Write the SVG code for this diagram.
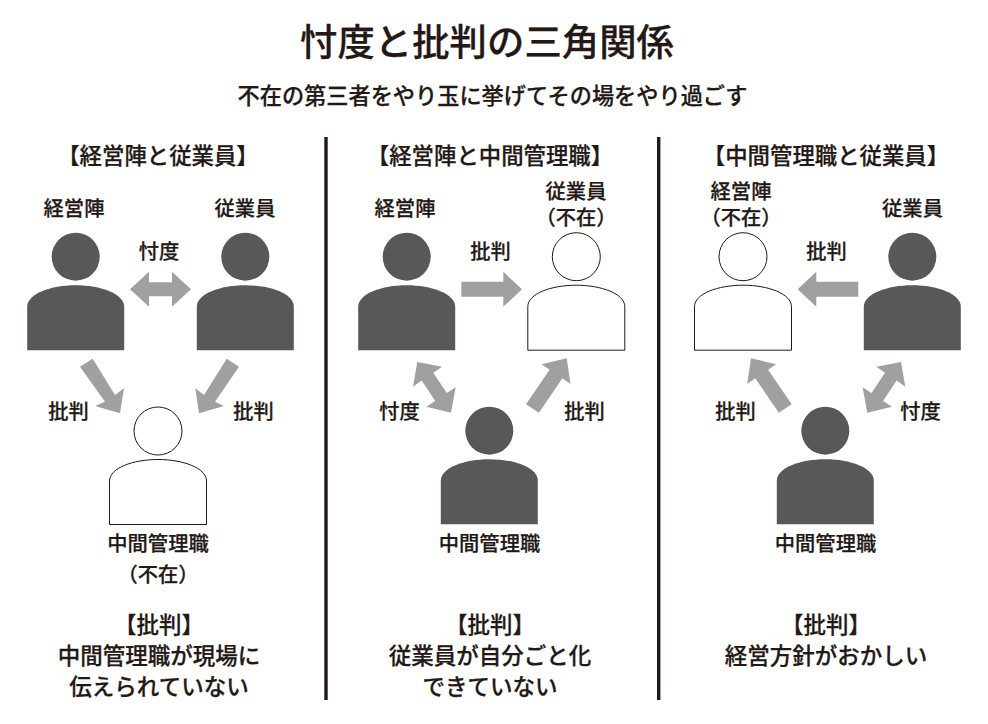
<svg xmlns="http://www.w3.org/2000/svg" width="988" height="724" viewBox="0 0 988 724">
<style>
text{font-family:"Noto Sans CJK JP","Noto Sans",sans-serif;font-weight:500;fill:#231815;stroke:#231815;stroke-width:.25;text-anchor:middle}
.title{font-size:37.4px}
.sub{font-size:22.2px}
.h{font-size:22.4px}
.l{font-size:20.3px}
.b{font-size:22.5px}
.ar{fill:#9fa0a0}
.dark{fill:#595757}
.open{fill:#fff;stroke:#231815;stroke-width:1}
.rule{fill:#231815}
</style>
<defs>
<g id="person">
<circle cx="0" cy="0" r="24"/>
<path d="M-48.5 93.5V50C-48.5 37 -25 28.5 0 28.5S48.5 37 48.5 50V93.5Z"/>
</g>
</defs>
<rect width="988" height="724" fill="#fff"/>
<g id="heading">
<text class="title" x="487" y="56">忖度と批判の三角関係</text>
<text class="sub" x="492.5" y="104">不在の第三者をやり玉に挙げてその場をやり過ごす</text>
</g>
<g id="dividers">
<rect class="rule" x="324.3" y="137" width="3.4" height="563"/>
<rect class="rule" x="657" y="137" width="3.4" height="563"/>
</g>
<g id="connectors">
<polygon class="ar" points="130,289.3 149,271.8 149,282.3 172,282.3 172,271.8 191,289.3 172,306.8 172,296.3 149,296.3 149,306.8"/>
<polygon class="ar" points="80,366.7 92.7,358.7 115,395 124,388.3 120,413.3 95,406 105,401.7"/>
<polygon class="ar" points="239,366.7 226.7,358.7 204,395 195.3,388.3 199,413.3 224,406 215,401.7"/>
<polygon class="ar" points="461.3,281.8 503.3,281.8 503.3,271.8 522,289.3 503.3,306.8 503.3,296.8 461.3,296.8"/>
<polygon class="ar" points="526,404.2 549.6,369.7 541.5,364.2 566.7,358.3 570.5,383.9 562.4,378.3 538.9,412.8"/>
<polygon class="ar" points="417.3,362 442,366.7 433.3,372.8 446.8,393.1 455.7,387.3 451,412.7 426.3,406.7 435.2,400.9 421.7,380.6 413,386.7"/>
<polygon class="ar" points="858.3,281.8 816.3,281.8 816.3,271.8 797.7,289.3 816.3,306.8 816.3,296.8 858.3,296.8"/>
<polygon class="ar" points="791.7,404.2 768.1,369.7 776.2,364.2 751,358.3 747.2,383.9 755.3,378.3 778.8,412.8"/>
<polygon class="ar" points="901,362 876.3,366.7 885,372.8 871.5,393.1 862.6,387.3 867.3,412.7 892,406.7 883.1,400.9 896.6,380.6 905.3,386.7"/>
</g>
<g id="panel1">
<g id="p1-keieijin"><use href="#person" class="dark" x="75.7" y="256.7"/><text class="l" x="74" y="216">経営陣</text></g>
<g id="p1-jugyoin"><use href="#person" class="dark" x="245.3" y="256.7"/><text class="l" x="245" y="216">従業員</text></g>
<g id="p1-chukan"><use href="#person" class="open" x="158" y="431"/><text class="l" x="158" y="551">中間管理職</text><text class="l" x="158" y="582">（不在）</text></g>
<text class="h" x="158" y="164">【経営陣と従業員】</text>
<text class="l" x="159" y="259">忖度</text>
<text class="l" x="68.5" y="419">批判</text>
<text class="l" x="253.5" y="419">批判</text>
<text class="b" x="159" y="633">【批判】</text>
<text class="b" x="159" y="664">中間管理職が現場に</text>
<text class="b" x="159" y="695">伝えられていない</text>
</g>
<g id="panel2">
<g id="p2-keieijin"><use href="#person" class="dark" x="406.7" y="256.7"/><text class="l" x="405" y="216">経営陣</text></g>
<g id="p2-jugyoin"><use href="#person" class="open" x="576.3" y="256.7"/><text class="l" x="576" y="199">従業員<tspan x="576" dy="26">（不在）</tspan></text></g>
<g id="p2-chukan"><use href="#person" class="dark" x="489.3" y="430.7"/><text class="l" x="489.5" y="551">中間管理職</text></g>
<text class="h" x="490" y="164">【経営陣と中間管理職】</text>
<text class="l" x="490.5" y="259">批判</text>
<text class="l" x="399.5" y="419">忖度</text>
<text class="l" x="584.5" y="419">批判</text>
<text class="b" x="490" y="633">【批判】</text>
<text class="b" x="490" y="664">従業員が自分ごと化</text>
<text class="b" x="490" y="695">できていない</text>
</g>
<g id="panel3">
<g id="p3-keieijin"><use href="#person" class="open" x="743" y="256.7"/><text class="l" x="741" y="199">経営陣<tspan x="741" dy="26">（不在）</tspan></text></g>
<g id="p3-jugyoin"><use href="#person" class="dark" x="912.3" y="256.7"/><text class="l" x="912.5" y="216">従業員</text></g>
<g id="p3-chukan"><use href="#person" class="dark" x="825.3" y="430.7"/><text class="l" x="825.5" y="551">中間管理職</text></g>
<text class="h" x="826" y="164">【中間管理職と従業員】</text>
<text class="l" x="826.5" y="259">批判</text>
<text class="l" x="735.5" y="419">批判</text>
<text class="l" x="920.5" y="419">忖度</text>
<text class="b" x="826" y="633">【批判】</text>
<text class="b" x="826" y="664">経営方針がおかしい</text>
</g>
</svg>
